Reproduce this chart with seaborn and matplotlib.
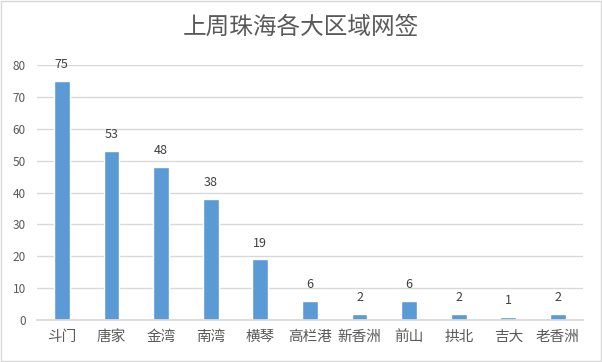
import matplotlib
matplotlib.use("Agg")
import matplotlib.pyplot as plt
import seaborn as sns
import pandas as pd

categories = ["斗门", "唐家", "金湾", "南湾", "横琴", "高栏港", "新香洲", "前山", "拱北", "吉大", "老香洲"]
values = [75, 53, 48, 38, 19, 6, 2, 6, 2, 1, 2]
yticks = [0, 10, 20, 30, 40, 50, 60, 70, 80]

sns.set_theme(style="white")
plt.rcParams['font.family'] = ['Noto Sans CJK SC', 'DejaVu Sans']

df = pd.DataFrame({"区域": categories, "网签": values})

fig = plt.figure(figsize=(6.02, 3.62), dpi=100)
ax = fig.add_axes([0.0615, 0.116, 0.9065, 0.704])
sns.barplot(data=df, x="区域", y="网签", color="#5B9BD5", width=0.32, saturation=1, ax=ax)
ax.set_ylim(0, 80)
ax.set_xlim(-0.5, len(categories) - 0.5)
ax.set_yticks(yticks)
ax.yaxis.grid(True, color="#D9D9D9", linewidth=1)
ax.set_axisbelow(True)
for s in ["left", "right", "top"]:
    ax.spines[s].set_visible(False)
ax.spines["bottom"].set_color("#D9D9D9")
ax.tick_params(axis="both", length=0, colors="#595959")
ax.tick_params(axis="y", labelsize=8.5, pad=8)
ax.tick_params(axis="x", labelsize=10.5, pad=7)
ax.set_xlabel("")
ax.set_ylabel("")
ax.bar_label(ax.containers[0], labels=[str(v) for v in values], padding=7, fontsize=9, color="#404040")
fig.suptitle("上周珠海各大区域网签", y=0.955, fontsize=17, color="#595959", fontweight="medium")
fig.patches.append(plt.Rectangle((0.002, 0.003), 0.996, 0.994, transform=fig.transFigure,
                                 fill=False, edgecolor="#D9D9D9", linewidth=1))
fig.savefig("out.png", dpi=100)
